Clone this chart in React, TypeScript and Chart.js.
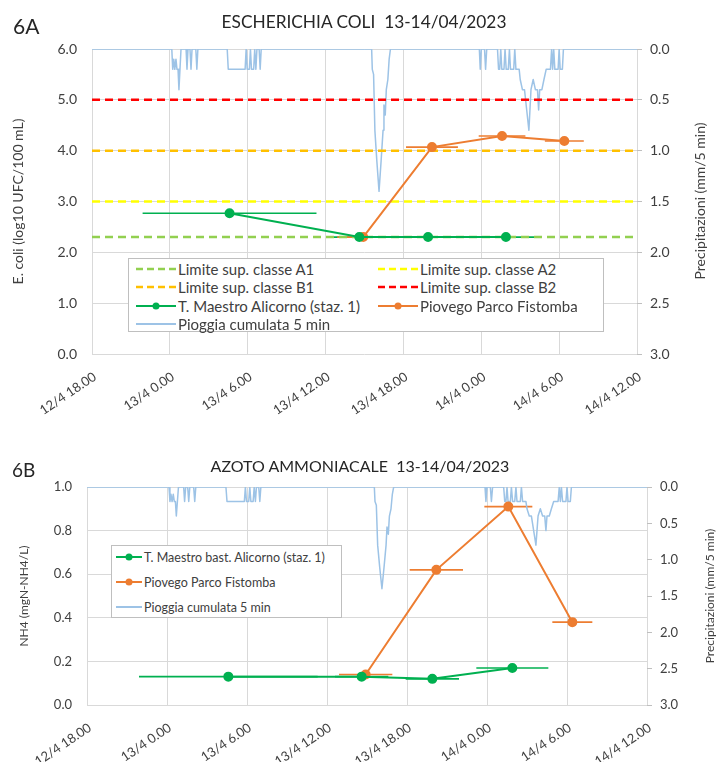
import React, { useEffect, useRef } from "react";
import { Chart, registerables } from "chart.js";

Chart.register(...registerables);
Chart.defaults.font.family = "Lato, 'Open Sans', sans-serif";

// ---- data -------------------------------------------------------------
// x positions are hours elapsed since 12/4 18.00
const xTickLabels = [
  "12/4 18.00",
  "13/4 0.00",
  "13/4 6.00",
  "13/4 12.00",
  "13/4 18.00",
  "14/4 0.00",
  "14/4 6.00",
  "14/4 12.00",
];

// sampling times and half-length of each composite sampling window (hours)
const maestroHours = [10.6, 20.6, 25.9, 31.9];
const maestroSpan = [6.7, 2.0, 2.0, 2.7];
const piovegoHours = [20.9, 26.2, 31.6, 36.4];
const piovegoSpan = [2.0, 2.0, 1.8, 1.5];

// E. coli, log10 UFC/100 mL
const ecoliMaestro = [2.77, 2.3, 2.3, 2.3];
const ecoliPiovego = [2.3, 4.07, 4.29, 4.19];

// ammonia nitrogen, mgN-NH4/L
const nh4Maestro = [0.13, 0.13, 0.12, 0.17];
const nh4Piovego = [0.14, 0.62, 0.91, 0.38];

// bathing-water class upper limits (log10 UFC/100 mL)
const classNames = ["A1", "A2", "B1", "B2"];
const classLimits = [2.3, 3.0, 4.0, 5.0];

// 5-minute cumulated rainfall (mm)
const rainHours = [
  0, 6.15, 6.22, 6.3, 6.38, 6.47, 6.55, 6.63, 6.7, 6.78, 6.86,
  7.25, 7.32, 7.4, 7.55, 7.63, 7.71, 8.0, 8.08, 8.16,
  10.42, 10.5, 11.8, 11.88, 11.96, 12.13, 12.21, 12.29, 12.46, 12.54, 12.63, 12.71, 12.88, 12.96, 13.04,
  21.55, 21.6, 21.7, 21.8, 21.95, 22.12, 22.28, 22.43, 22.5, 22.6, 22.68, 22.8, 22.9, 23.0,
  29.85, 29.92, 30.0, 30.25, 30.33, 30.42,
  31.25, 31.33, 31.42, 31.5, 31.58, 31.75, 31.83, 31.92, 32.08, 32.17, 32.25, 32.5, 32.58, 32.67,
  32.92, 33.0, 33.17, 33.33, 33.5, 33.67, 33.75, 33.83, 34.0, 34.17, 34.33, 34.42, 34.5, 34.67,
  34.83, 35.0, 35.33, 35.42, 35.5, 35.58, 35.67, 35.92, 36.0, 36.08, 36.25, 36.33,
  42,
];
const rainMm = [
  0, 0, 0.2, 0.1, 0.2, 0.1, 0.2, 0.2, 0.4, 0.2, 0,
  0, 0.2, 0, 0, 0.2, 0, 0, 0.2, 0,
  0, 0.2, 0.2, 0, 0.2, 0.2, 0, 0.2, 0.2, 0, 0.2, 0, 0, 0.2, 0,
  0, 0.2, 0.25, 0.8, 1.1, 1.4, 1.1, 0.8, 0.55, 0.65, 0.4, 0.3, 0.1, 0,
  0, 0.2, 0, 0, 0.2, 0,
  0, 0.2, 0.2, 0, 0.2, 0.2, 0, 0.2, 0.2, 0, 0.2, 0.2, 0, 0.2,
  0.2, 0.3, 0.4, 0.4, 0.6, 0.8, 0.6, 0.4, 0.3, 0.4, 0.4, 0.6, 0.4, 0.4,
  0.3, 0.2, 0.2, 0, 0.2, 0, 0.2, 0.2, 0, 0.2, 0.2, 0,
  0,
];

// ---- styling ----------------------------------------------------------
const GREEN = "#00B050";
const ORANGE = "#ED7D31";
const RAIN = "#9DC3E6";
const LIMIT_COLORS = ["#92D050", "#FFFF00", "#FFC000", "#FF0000"];
const GRID = "#d9d9d9";
const TEXT = "#404040";
const FONT = "Lato, 'Open Sans', sans-serif";

const toPoints = (xs: number[], ys: number[]) => xs.map((x, i) => ({ x, y: ys[i] }));

// horizontal bars showing the sampling window of each point
const samplingWindows = {
  id: "samplingWindows",
  beforeDatasetsDraw(chart: any) {
    const ctx = chart.ctx;
    chart.data.datasets.forEach((ds: any, i: number) => {
      if (!ds.xSpan) return;
      const meta = chart.getDatasetMeta(i);
      const xs = chart.scales[meta.xAxisID];
      const ys = chart.scales[meta.yAxisID];
      ctx.save();
      ctx.strokeStyle = ds.borderColor;
      ctx.lineWidth = 1.6;
      ds.data.forEach((p: any, j: number) => {
        const y = ys.getPixelForValue(p.y);
        ctx.beginPath();
        ctx.moveTo(xs.getPixelForValue(p.x - ds.xSpan[j]), y);
        ctx.lineTo(xs.getPixelForValue(p.x + ds.xSpan[j]), y);
        ctx.stroke();
      });
      ctx.restore();
    });
  },
};

function rainDataset() {
  return {
    label: "Pioggia cumulata 5 min",
    data: toPoints(rainHours, rainMm),
    yAxisID: "y2",
    borderColor: RAIN,
    borderWidth: 1.5,
    borderJoinStyle: "round",
    pointRadius: 0,
    order: 10,
  };
}

function seriesDataset(label: string, hours: number[], values: number[], span: number[], color: string) {
  return {
    label,
    data: toPoints(hours, values),
    xSpan: span,
    yAxisID: "y",
    borderColor: color,
    backgroundColor: color,
    borderWidth: 2,
    pointRadius: 4,
    pointBackgroundColor: color,
    pointBorderColor: color,
    order: 1,
  };
}

function limitDatasets() {
  return classLimits.map((v, i) => ({
    label: "Limite sup. classe " + classNames[i],
    data: [
      { x: 0, y: v },
      { x: 42, y: v },
    ],
    yAxisID: "y",
    borderColor: LIMIT_COLORS[i],
    borderWidth: 2.5,
    borderDash: [8, 5],
    pointRadius: 0,
    order: 5,
  }));
}

type PanelSpec = {
  width: number;
  height: number;
  padTop: number;
  xAxisH: number;
  leftW: number;
  rightW: number;
  yMax: number;
  yStep: number;
  yTitle: string;
  yTitleSize: number;
  yTitlePad: number;
  yTickSize: number;
  xTickSize: number;
  datasets: any[];
};

function Panel({ spec, top }: { spec: PanelSpec; top: number }) {
  const ref = useRef<HTMLCanvasElement | null>(null);
  useEffect(() => {
    if (!ref.current) return;
    const chart = new Chart(ref.current, {
      type: "line",
      data: { datasets: spec.datasets },
      options: {
        responsive: false,
        animation: false,
        layout: { padding: { top: spec.padTop, left: 0, right: 0, bottom: 0 } },
        plugins: {
          legend: { display: false },
          tooltip: { enabled: false },
          title: { display: false },
        },
        scales: {
          x: {
            type: "linear",
            min: 0,
            max: 42,
            border: { display: false },
            grid: { color: GRID, drawTicks: false },
            ticks: {
              stepSize: 6,
              autoSkip: false,
              maxRotation: 34,
              minRotation: 34,
              padding: 15,
              labelOffset: 3,
              color: TEXT,
              font: { size: spec.xTickSize },
              callback: (v: any) => xTickLabels[Math.round(Number(v) / 6)],
            },
            afterFit: (s: any) => {
              s.height = spec.xAxisH;
            },
          },
          y: {
            position: "left",
            min: 0,
            max: spec.yMax,
            border: { display: false },
            grid: { color: GRID, drawTicks: false },
            ticks: {
              stepSize: spec.yStep,
              padding: 15,
              color: TEXT,
              font: { size: spec.yTickSize },
              callback: (v: any) => Number(v).toFixed(1),
            },
            title: {
              display: true,
              text: spec.yTitle,
              color: TEXT,
              font: { size: spec.yTitleSize },
              padding: { top: spec.yTitlePad, bottom: 0 },
            },
            afterFit: (s: any) => {
              s.width = spec.leftW;
            },
          },
          y2: {
            position: "right",
            min: 0,
            max: 3,
            reverse: true,
            border: { display: false },
            grid: { drawOnChartArea: false, drawTicks: true, tickLength: 5, tickColor: "#bfbfbf" },
            ticks: {
              stepSize: 0.5,
              padding: 8,
              color: TEXT,
              font: { size: spec.yTickSize },
              callback: (v: any) => Number(v).toFixed(1),
            },
            afterFit: (s: any) => {
              s.width = spec.rightW;
            },
          },
        },
      } as any,
      plugins: [samplingWindows],
    });
    return () => chart.destroy();
  }, [spec]);
  return (
    <canvas
      ref={ref}
      width={spec.width}
      height={spec.height}
      style={{ position: "absolute", left: 0, top, width: spec.width, height: spec.height }}
    />
  );
}

const panelA: PanelSpec = {
  width: 719,
  height: 420,
  padTop: 49,
  xAxisH: 66,
  leftW: 92,
  rightW: 82,
  yMax: 6,
  yStep: 1,
  yTitle: "E. coli (log10 UFC/100 mL)",
  yTitleSize: 14,
  yTitlePad: 10,
  yTickSize: 14,
  xTickSize: 13,
  datasets: [
    seriesDataset("T. Maestro Alicorno (staz. 1)", maestroHours, ecoliMaestro, maestroSpan, GREEN),
    seriesDataset("Piovego Parco Fistomba", piovegoHours, ecoliPiovego, piovegoSpan, ORANGE),
    ...limitDatasets(),
    rainDataset(),
  ],
};

const panelB: PanelSpec = {
  width: 719,
  height: 362,
  padTop: 87,
  xAxisH: 57,
  leftW: 87,
  rightW: 72,
  yMax: 1,
  yStep: 0.2,
  yTitle: "NH4 (mgN-NH4/L)",
  yTitleSize: 12,
  yTitlePad: 17,
  yTickSize: 13,
  xTickSize: 13,
  datasets: [
    seriesDataset("T. Maestro bast. Alicorno (staz. 1)", maestroHours, nh4Maestro, maestroSpan, GREEN),
    seriesDataset("Piovego Parco Fistomba", piovegoHours, nh4Piovego, piovegoSpan, ORANGE),
    rainDataset(),
  ],
};

// ---- legend -----------------------------------------------------------
type Kind = "dash" | "marker" | "line";

function Swatch({ kind, color, w }: { kind: Kind; color: string; w: number }) {
  return (
    <svg width={w} height={10} style={{ display: "block" }}>
      {kind === "dash" && (
        <line x1={0} y1={5} x2={w} y2={5} stroke={color} strokeWidth={2.5} strokeDasharray="7 4" />
      )}
      {kind === "marker" && (
        <>
          <line x1={0} y1={5} x2={w} y2={5} stroke={color} strokeWidth={2} />
          <circle cx={w / 2} cy={5} r={3.5} fill={color} />
        </>
      )}
      {kind === "line" && <line x1={0} y1={5} x2={w} y2={5} stroke={color} strokeWidth={2} />}
    </svg>
  );
}

type LegendItem = { kind: Kind; color: string; text: string; x: number; y: number };

function Legend({
  left,
  top,
  width,
  height,
  items,
  swatchW,
  fontSize,
}: {
  left: number;
  top: number;
  width: number;
  height: number;
  items: LegendItem[];
  swatchW: number;
  fontSize: number;
}) {
  return (
    <div
      style={{
        position: "absolute",
        left,
        top,
        width,
        height,
        boxSizing: "border-box",
        border: "1px solid #bfbfbf",
        background: "#fff",
      }}
    >
      {items.map((it, i) => (
        <div
          key={i}
          style={{
            position: "absolute",
            left: it.x,
            top: it.y - 10,
            height: 20,
            display: "flex",
            alignItems: "center",
            whiteSpace: "nowrap",
            fontFamily: FONT,
            fontSize,
            color: TEXT,
          }}
        >
          <Swatch kind={it.kind} color={it.color} w={swatchW} />
          <span style={{ marginLeft: 2 }}>{it.text}</span>
        </div>
      ))}
    </div>
  );
}

const legendAItems: LegendItem[] = [
  { kind: "dash", color: LIMIT_COLORS[0], text: "Limite sup. classe A1", x: 7, y: 10 },
  { kind: "dash", color: LIMIT_COLORS[1], text: "Limite sup. classe A2", x: 249, y: 10 },
  { kind: "dash", color: LIMIT_COLORS[2], text: "Limite sup. classe B1", x: 7, y: 28 },
  { kind: "dash", color: LIMIT_COLORS[3], text: "Limite sup. classe B2", x: 249, y: 28 },
  { kind: "marker", color: GREEN, text: "T. Maestro Alicorno (staz. 1)", x: 7, y: 47 },
  { kind: "marker", color: ORANGE, text: "Piovego Parco Fistomba", x: 249, y: 47 },
  { kind: "line", color: RAIN, text: "Pioggia cumulata 5 min", x: 7, y: 65 },
];

const legendBItems: LegendItem[] = [
  { kind: "marker", color: GREEN, text: "T. Maestro bast. Alicorno (staz. 1)", x: 4, y: 11 },
  { kind: "marker", color: ORANGE, text: "Piovego Parco Fistomba", x: 4, y: 36 },
  { kind: "line", color: RAIN, text: "Pioggia cumulata 5 min", x: 4, y: 61 },
];

function Label({
  text,
  left,
  top,
  size,
  center,
}: {
  text: string;
  left: number;
  top: number;
  size: number;
  center?: boolean;
}) {
  return (
    <div
      style={{
        position: "absolute",
        left,
        top,
        transform: center ? "translateX(-50%)" : undefined,
        fontFamily: FONT,
        fontSize: size,
        lineHeight: 1,
        color: "#262626",
        whiteSpace: "pre",
      }}
    >
      {text}
    </div>
  );
}

function SideTitle({ text, cx, cy, size }: { text: string; cx: number; cy: number; size: number }) {
  return (
    <div
      style={{
        position: "absolute",
        left: cx,
        top: cy,
        transform: "translate(-50%, -50%) rotate(-90deg)",
        fontFamily: FONT,
        fontSize: size,
        lineHeight: 1,
        color: TEXT,
        whiteSpace: "nowrap",
      }}
    >
      {text}
    </div>
  );
}

export default function App() {
  return (
    <div
      style={{
        position: "absolute",
        left: 0,
        top: 0,
        width: 719,
        height: 762,
        background: "#fff",
        overflow: "hidden",
      }}
    >
      <Panel spec={panelA} top={0} />
      <Panel spec={panelB} top={400} />

      <Label text="6A" left={13} top={15} size={21} />
      <Label text="ESCHERICHIA COLI  13-14/04/2023" left={364} top={13} size={17.3} center />
      <SideTitle text="Precipitazioni (mm/5 min)" cx={700} cy={201} size={14} />
      <Legend left={128} top={258} width={476} height={74} items={legendAItems} swatchW={40} fontSize={15} />

      <Label text="6B" left={12} top={460} size={19} />
      <Label text="AZOTO AMMONIACALE  13-14/04/2023" left={360} top={458} size={16} center />
      <SideTitle text="Precipitazioni (mm/5 min)" cx={710} cy={596} size={12} />
      <Legend left={111} top={545} width={231} height={73} items={legendBItems} swatchW={26} fontSize={12.5} />
    </div>
  );
}
